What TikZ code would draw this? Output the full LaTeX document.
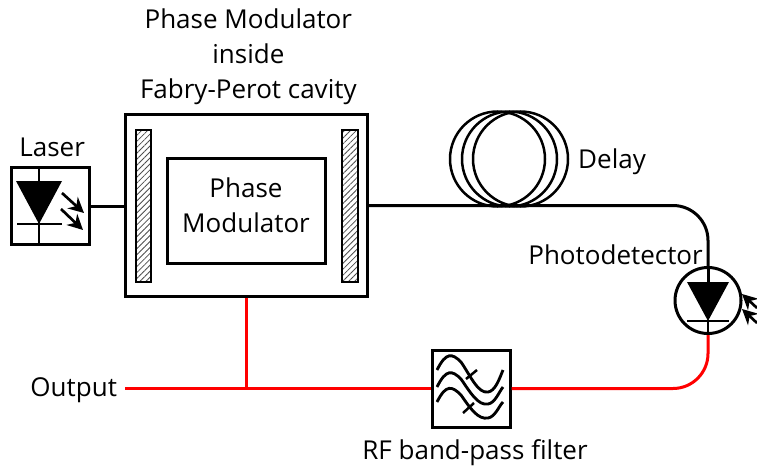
\documentclass[tikz,border=0pt]{standalone}
\usepackage{fontspec}
\setmainfont{Open Sans}
\usetikzlibrary{arrows.meta,positioning,patterns.meta}

\begin{document}
\begin{tikzpicture}[
    x=0.3mm, y=-0.3mm,
    font=\fontsize{22.2}{29.9}\selectfont,
    box/.style={draw, line width=0.9mm, inner sep=0pt, align=center},
    mirror/.style={draw, line width=0.6mm, pattern={Lines[angle=45, distance=3.6pt, line width=0.7pt]},
                pattern color=black!70, minimum width=4.6mm, minimum height=45.6mm, inner sep=0pt},
    lab/.style={inner sep=0pt, align=center},
    wire/.style={line width=0.9mm},
    redwire/.style={line width=0.9mm, red},
    thinwire/.style={line width=0.75mm},
    ray/.style={-{Stealth[length=4.6mm, width=4.6mm]}, line width=0.8mm}
]
  \useasboundingbox (0,0) rectangle (757,469);

  \node[box, minimum width=23.1mm, minimum height=23.1mm] (laser) at (50.5,206) {};
  \node[box, minimum width=72.6mm, minimum height=54.3mm] (cavity) at (246,205.5) {};
  \node[box, minimum width=47.4mm, minimum height=31.5mm] (pm) at (246,210.5) {};
  \node[lab] (pmlab) at (246,205.5) {Phase\\Modulator};
  \node[mirror] (mirrorl) at (143.5,206) {};
  \node[mirror] (mirrorr) at (350,206) {};
  \node[box, minimum width=23.4mm, minimum height=23.1mm] (filter) at (471,388.5) {};
  \node[draw, circle, line width=0.9mm, minimum size=19.8mm, inner sep=0pt] (photo) at (708,300.5) {};

  \node[lab, above=2.7mm of laser, xshift=0.5mm] (laserlab) {Laser};
  \node[lab, above=2.5mm of cavity, xshift=0.7mm] (cavitylab) {Phase Modulator\\inside\\Fabry-Perot cavity};
  \node[lab, anchor=west] (delaylab) at (578,162) {Delay};
  \node[lab, anchor=east] (photolab) at (703,255) {Photodetector};
  \node[lab, below=3.2mm of filter, xshift=1.2mm] (filterlab) {RF band-pass filter};
  \node[lab, left=94mm of filter, yshift=-0.5mm] (output) {Output};

  % laser symbol
  \fill (16,181) -- (62,181) -- (39,224) -- cycle;
  \draw[thinwire] (39,167) -- (39,245);
  \draw[thinwire] (17,224) -- (62,224);
  \draw[ray] (62,193) -- (84,213);
  \draw[ray] (61,209) -- (83,230);

  % delay coil
  \foreach \cx in {497.5,509.5,520.5}
    \draw[thinwire] (\cx,159) circle [radius=14.25mm];

  % photodetector symbol
  \fill (687,282) -- (729,282) -- (708,321) -- cycle;
  \draw[thinwire] (687,321) -- (729,321);
  \draw[thinwire] (708,321) -- (708,334);
  \draw[ray] (757,308) -- (742,294);
  \draw[ray] (757,323) -- (742,309);

  % filter symbol
  \foreach \dy/\pk/\tr in {0/355/392, 17/372/404, 32/388/418}
    \draw[line width=0.85mm] (437,370+\dy) .. controls (446,352+\dy) and (452,\pk-2) .. (461,\pk+7)
        .. controls (470,\pk+20) and (478,\tr+2) .. (488,\tr)
        .. controls (495,\tr-1) and (499,\tr-12) .. (503,370+\dy);
  \draw[line width=0.75mm] (466,379) -- (477,370);
  \draw[line width=0.75mm] (463,413) -- (474,403);

  \draw[wire] (laser.east) -- (laser.east -| cavity.west);
  \draw[wire, rounded corners=10.5mm] (cavity.east) -| (photo.north);
  \coordinate (tap) at (cavity.south |- filter.west);
  \draw[redwire] (cavity.south) -- (tap);
  \draw[redwire, shorten <=2.4mm] (filter.west -| output.east) -- (filter.west);
  \draw[redwire, rounded corners=10.5mm] (filter.east) -| (photo.south);
  \draw[wire] (photo.north) -- (708,282);
\end{tikzpicture}
\end{document}
